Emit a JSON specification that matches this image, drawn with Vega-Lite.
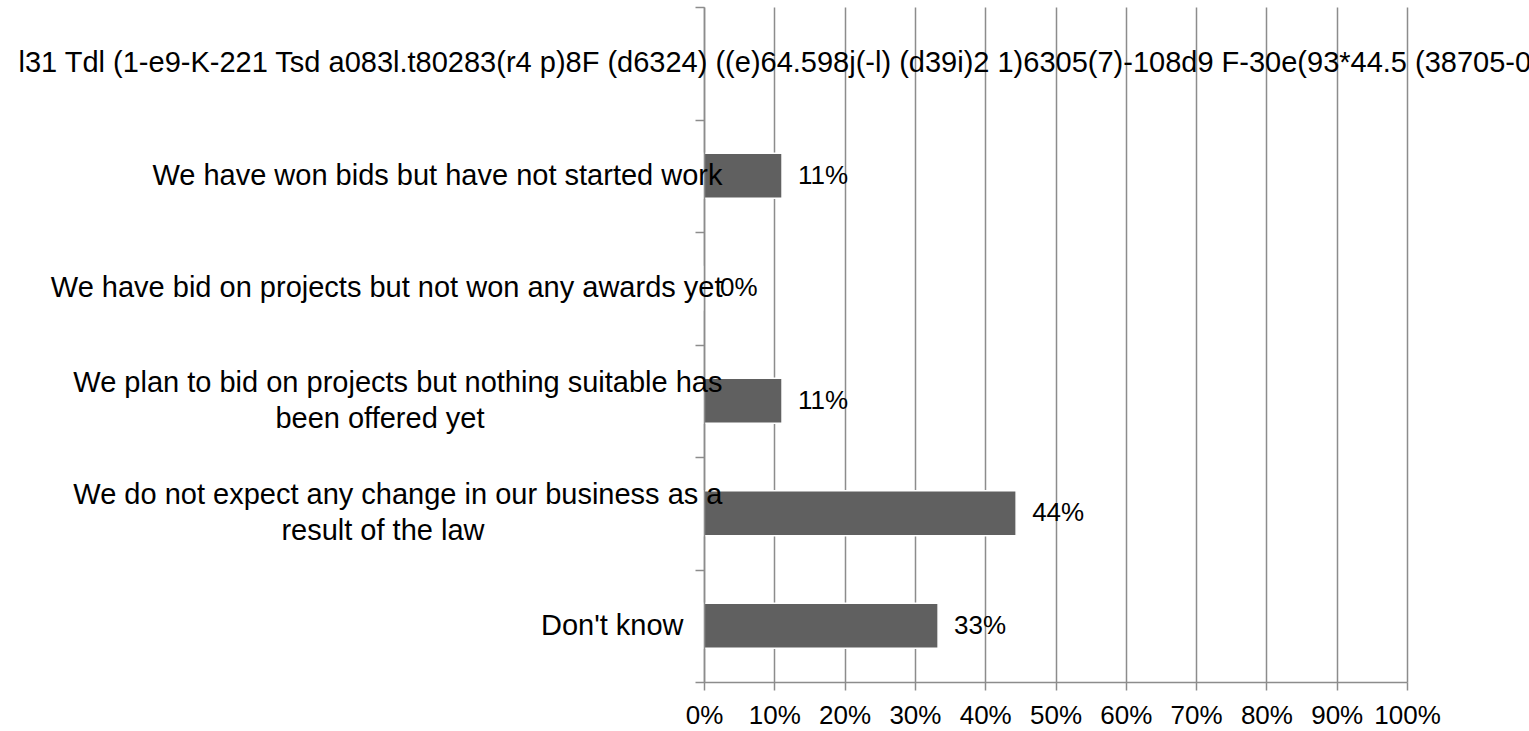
{
  "$schema": "https://vega.github.io/schema/vega-lite/v6.json",
  "width": 703,
  "height": 675,
  "autosize": {"type": "none"},
  "padding": {"left": 704, "top": 7, "right": 122, "bottom": 49},
  "background": "white",
  "data": {
    "values": [
      {"answer": "l31 Tdl (1-e9-K-221 Tsd a083l.t80283(r4 p)8F (d6324) ((e)64.598j(-l) (d39i)2 1)6305(7)-108d9 F-30e(93*44.5 (38705-045l5(2)-20(", "share": null},
      {"answer": "We have won bids but have not started work", "share": 0.111},
      {"answer": "We have bid on projects but not won any awards yet", "share": 0},
      {"answer": "We plan to bid on projects but nothing suitable has\nbeen offered yet", "share": 0.111},
      {"answer": "We do not expect any change in our business as a\nresult of the law", "share": 0.444},
      {"answer": "Don't know", "share": 0.333}
    ]
  },
  "layer": [
    {
      "mark": {"type": "bar", "color": "#606060", "stroke": "white", "strokeWidth": 1.5, "height": {"band": 0.4}},
      "encoding": {
        "x": {"field": "share", "type": "quantitative", "scale": {"domain": [0, 1]}},
        "y": {
          "field": "answer", "type": "nominal",
          "scale": {"domain": [
            "l31 Tdl (1-e9-K-221 Tsd a083l.t80283(r4 p)8F (d6324) ((e)64.598j(-l) (d39i)2 1)6305(7)-108d9 F-30e(93*44.5 (38705-045l5(2)-20(",
            "We have won bids but have not started work",
            "We have bid on projects but not won any awards yet",
            "We plan to bid on projects but nothing suitable has\nbeen offered yet",
            "We do not expect any change in our business as a\nresult of the law",
            "Don't know"], "paddingInner": 0, "paddingOuter": 0},
          "axis": {
            "orient": "left", "title": null, "zindex": 1,
            "domain": true, "domainColor": "#8c8c8c", "domainWidth": 1.5,
            "ticks": true, "tickBand": "extent", "tickSize": 9, "tickColor": "#8c8c8c", "tickWidth": 1.5,
            "labelExpr": "datum.value === \"Don't know\" ? datum.value : ''",
            "labelPadding": 12, "labelAlign": "right", "labelBaseline": "middle"
          }
        }
      }
    },
    {
      "mark": {"type": "text", "align": "left", "baseline": "middle", "dx": 16, "fontSize": 26, "font": "Liberation Sans", "color": "black"},
      "encoding": {
        "x": {"field": "share", "type": "quantitative", "scale": {"domain": [0, 1]}},
        "y": {
          "field": "answer", "type": "nominal",
          "scale": {"domain": [
            "l31 Tdl (1-e9-K-221 Tsd a083l.t80283(r4 p)8F (d6324) ((e)64.598j(-l) (d39i)2 1)6305(7)-108d9 F-30e(93*44.5 (38705-045l5(2)-20(",
            "We have won bids but have not started work",
            "We have bid on projects but not won any awards yet",
            "We plan to bid on projects but nothing suitable has\nbeen offered yet",
            "We do not expect any change in our business as a\nresult of the law",
            "Don't know"], "paddingInner": 0, "paddingOuter": 0},
          "axis": {
            "orient": "left", "title": null, "zindex": 1,
            "domain": false, "ticks": false,
            "labelExpr": "(datum.value === 'We have won bids but have not started work' || datum.value === 'We have bid on projects but not won any awards yet') ? datum.value : datum.value === 'We plan to bid on projects but nothing suitable has\\nbeen offered yet' ? 'We plan to bid on projects but nothing suitable has' : datum.value === 'We do not expect any change in our business as a\\nresult of the law' ? 'We do not expect any change in our business as a' : ''",
            "labelPadding": -18, "labelAlign": "right",
            "labelBaseline": {"condition": {"test": "datum.value === 'We plan to bid on projects but nothing suitable has\\nbeen offered yet' || datum.value === 'We do not expect any change in our business as a\\nresult of the law'", "value": "line-bottom"}, "value": "middle"}
          }
        },
        "text": {"field": "share", "type": "quantitative", "format": ".0%"}
      }
    },
    {
      "mark": {"type": "text", "opacity": 0},
      "encoding": {
        "x": {"field": "share", "type": "quantitative", "scale": {"domain": [0, 1]}},
        "y": {
          "field": "answer", "type": "nominal",
          "scale": {"domain": [
            "l31 Tdl (1-e9-K-221 Tsd a083l.t80283(r4 p)8F (d6324) ((e)64.598j(-l) (d39i)2 1)6305(7)-108d9 F-30e(93*44.5 (38705-045l5(2)-20(",
            "We have won bids but have not started work",
            "We have bid on projects but not won any awards yet",
            "We plan to bid on projects but nothing suitable has\nbeen offered yet",
            "We do not expect any change in our business as a\nresult of the law",
            "Don't know"], "paddingInner": 0, "paddingOuter": 0},
          "axis": {
            "orient": "left", "title": null, "zindex": 1,
            "domain": false, "ticks": false,
            "labelExpr": "datum.value === 'We plan to bid on projects but nothing suitable has\\nbeen offered yet' ? 'been offered yet' : datum.value === 'We do not expect any change in our business as a\\nresult of the law' ? 'result of the law' : ''",
            "labelPadding": 220, "labelAlign": "right", "labelBaseline": "line-top", "labelOffset": 2
          }
        },
        "text": {"field": "share", "type": "quantitative", "format": ".0%"}
      }
    },
    {
      "mark": {"type": "text", "opacity": 0},
      "encoding": {
        "x": {"field": "share", "type": "quantitative", "scale": {"domain": [0, 1]}},
        "y": {
          "field": "answer", "type": "nominal",
          "scale": {"domain": [
            "l31 Tdl (1-e9-K-221 Tsd a083l.t80283(r4 p)8F (d6324) ((e)64.598j(-l) (d39i)2 1)6305(7)-108d9 F-30e(93*44.5 (38705-045l5(2)-20(",
            "We have won bids but have not started work",
            "We have bid on projects but not won any awards yet",
            "We plan to bid on projects but nothing suitable has\nbeen offered yet",
            "We do not expect any change in our business as a\nresult of the law",
            "Don't know"], "paddingInner": 0, "paddingOuter": 0},
          "axis": {
            "orient": "left", "title": null, "zindex": 1,
            "domain": false, "ticks": false,
            "labelExpr": "datum.value === 'l31 Tdl (1-e9-K-221 Tsd a083l.t80283(r4 p)8F (d6324) ((e)64.598j(-l) (d39i)2 1)6305(7)-108d9 F-30e(93*44.5 (38705-045l5(2)-20(' ? datum.value : ''",
            "labelPadding": 686, "labelAlign": "left", "labelBaseline": "middle", "labelLimit": 4000
          }
        },
        "text": {"field": "share", "type": "quantitative", "format": ".0%"}
      }
    }
  ],
  "resolve": {"axis": {"y": "independent"}},
  "config": {
    "view": {"stroke": null},
    "font": "Liberation Sans",
    "axis": {"labelFont": "Liberation Sans", "labelColor": "black", "labelFontSize": 29, "labelLimit": 1000, "labelLineHeight": 34, "labelOverlap": false},
    "axisX": {
      "title": null, "grid": true, "gridColor": "#8c8c8c", "gridWidth": 1.5,
      "domainColor": "#8c8c8c", "domainWidth": 1.5,
      "tickColor": "#8c8c8c", "tickWidth": 1.5, "tickSize": 8, "tickCount": 10,
      "labelFontSize": 26, "labelPadding": 12, "labelFlush": false, "format": ".0%", "zindex": 0
    }
  }
}
